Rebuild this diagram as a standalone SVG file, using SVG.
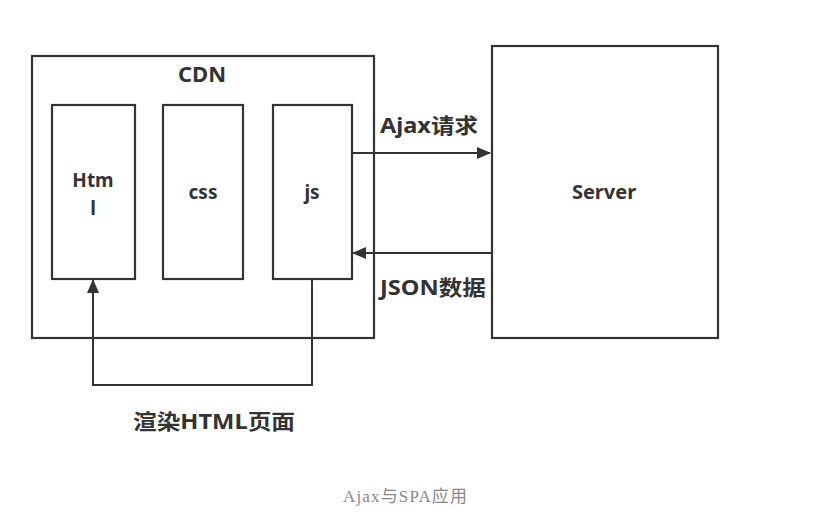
<svg xmlns="http://www.w3.org/2000/svg" width="813" height="526" viewBox="0 0 813 526">
<style>
.box{fill:none;stroke:#333;stroke-width:2.2}
.ln{fill:none;stroke:#333;stroke-width:2}
.t{font-family:"Noto Sans","Noto Sans CJK SC",sans-serif;font-weight:bold;fill:#333;text-anchor:middle}
.cap{font-family:"Liberation Serif","Noto Sans CJK SC",serif;fill:#888;font-size:17px;text-anchor:middle}
</style>
<defs>
<marker id="ah" markerWidth="14" markerHeight="12" refX="13" refY="6" orient="auto" markerUnits="userSpaceOnUse" viewBox="0 0 14 12">
<path d="M0,0 L14,6 L0,12 Z" fill="#333"/>
</marker>
</defs>
<rect width="813" height="526" fill="#fff"/>
<g id="cdn"><rect class="box" x="32" y="56" width="342" height="282"/><text class="t" x="202" y="82" font-size="22">CDN</text></g>
<g id="html"><rect class="box" x="52" y="105" width="83" height="174"/><text class="t" x="93" y="187" font-size="19">Htm</text><text class="t" x="93" y="215" font-size="19">l</text></g>
<g id="css"><rect class="box" x="163" y="105" width="80" height="174"/><text class="t" x="203" y="199" font-size="19">css</text></g>
<g id="js"><rect class="box" x="273" y="105" width="79" height="174"/><text class="t" x="312" y="199" font-size="19">js</text></g>
<g id="server"><rect class="box" x="492" y="46" width="226" height="292"/><text class="t" x="604" y="199" font-size="20">Server</text></g>
<g id="connectors">
<line class="ln" x1="352" y1="153" x2="490" y2="153" marker-end="url(#ah)"/>
<line class="ln" x1="492" y1="253" x2="353" y2="253" marker-end="url(#ah)"/>
<polyline class="ln" points="312,279 312,385 93,385 93,280" marker-end="url(#ah)"/>
</g>
<g id="labels">
<text class="t" x="429" y="133" font-size="21" textLength="98" lengthAdjust="spacingAndGlyphs">Ajax请求</text>
<text class="t" x="433" y="295" font-size="21" textLength="106" lengthAdjust="spacingAndGlyphs">JSON数据</text>
<text class="t" x="214" y="429" font-size="21" textLength="162" lengthAdjust="spacingAndGlyphs">渲染HTML页面</text>
</g>
<text class="cap" x="405" y="502" textLength="124" lengthAdjust="spacing">Ajax与SPA应用</text>
</svg>
